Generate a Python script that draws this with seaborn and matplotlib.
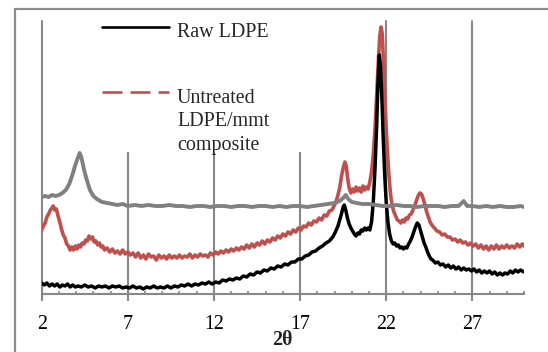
import matplotlib
matplotlib.use("Agg")
import matplotlib.pyplot as plt
import seaborn as sns
import pandas as pd
from matplotlib.lines import Line2D
from matplotlib.patches import Rectangle
from matplotlib.ticker import MultipleLocator

# ---------------- data (arbitrary intensity units) ----------------
tick_vals = [2, 7, 12, 17, 22, 27]
tick_labels = ["2", "7", "12", "17", "22", "27"]
x_label = "2θ"
series_names = ["Raw LDPE", "Untreated\nLDPE/mmt\ncomposite", "mmt"]

gray_x = [2.0, 2.2, 2.4, 2.6, 2.8, 3.0, 3.2, 3.4, 3.6, 3.8, 3.95, 4.1, 4.2, 4.3, 4.45, 4.6,
          4.8, 5.0, 5.2, 5.5, 5.8, 6.1, 6.4, 6.7, 7.0, 7.4, 7.8, 8.2, 8.6, 9.0, 9.4, 9.8,
          10.2, 10.6, 11.0, 11.4, 11.8, 12.2, 12.6, 13.0, 13.4, 13.8, 14.2, 14.6, 15.0, 15.4,
          15.8, 16.2, 16.6, 17.0, 17.4, 17.8, 18.2, 18.6, 19.0, 19.3, 19.5, 19.65, 19.8, 20.0,
          20.3, 20.6, 21.0, 21.4, 21.8, 22.2, 22.6, 23.0, 23.4, 23.8, 24.2, 24.6, 25.0, 25.4,
          25.8, 26.2, 26.5, 26.7, 27.0, 27.4, 27.8, 28.2, 28.6, 29.0, 29.4, 29.8, 30.0]
gray_y = [97, 98, 97, 99, 98, 99, 101, 104, 110, 120, 129, 136, 141, 137, 125, 115,
          104, 98, 95, 92, 91, 90, 89, 90, 88, 89, 88, 89, 88, 88, 89, 88,
          88, 87, 88, 88, 87, 88, 88, 87, 88, 88, 87, 88, 88, 87,
          88, 87, 88, 88, 87, 88, 89, 90, 91, 93, 96, 99, 95, 92,
          91, 90, 90, 89, 88, 88, 89, 88, 88, 87, 88, 88, 88, 87,
          88, 88, 93, 88, 88, 87, 88, 87, 88, 87, 87, 88, 87]

red_pts = [(2.0, 64), (2.1, 68), (2.2, 71), (2.3, 77), (2.4, 80), (2.5, 84), (2.6, 86), (2.67, 88),
           (2.75, 84), (2.85, 85), (2.95, 78), (3.05, 72), (3.15, 65), (3.25, 59), (3.35, 56),
           (3.45, 50), (3.55, 48), (3.65, 44), (3.75, 47), (3.85, 44), (3.95, 48), (4.05, 45),
           (4.15, 49), (4.25, 47), (4.35, 51), (4.45, 50), (4.55, 54), (4.65, 53), (4.75, 58),
           (4.85, 55), (4.95, 57), (5.05, 52), (5.15, 53), (5.25, 49), (5.35, 51), (5.45, 47),
           (5.55, 48), (5.65, 44), (5.8, 46), (5.95, 42), (6.1, 45), (6.25, 41), (6.4, 43),
           (6.55, 40), (6.7, 44), (6.85, 40), (7.0, 42), (7.15, 39), (7.3, 41), (7.45, 37),
           (7.6, 41), (7.75, 36), (7.9, 39), (8.05, 35), (8.2, 40), (8.35, 37), (8.5, 38),
           (8.65, 34), (8.8, 39), (8.95, 36), (9.1, 38), (9.25, 35), (9.4, 39), (9.55, 36),
           (9.7, 38), (9.85, 36), (10.0, 39), (10.15, 36), (10.3, 38), (10.45, 37), (10.6, 40),
           (10.75, 36), (10.9, 39), (11.05, 37), (11.2, 40), (11.35, 38), (11.5, 39), (11.65, 37),
           (11.8, 41), (11.95, 39), (12.1, 42), (12.25, 40), (12.4, 43), (12.55, 41), (12.7, 44),
           (12.85, 42), (13.0, 45), (13.15, 43), (13.3, 46), (13.45, 44), (13.6, 47), (13.75, 45),
           (13.9, 49), (14.05, 46), (14.2, 50), (14.35, 47), (14.5, 51), (14.65, 49), (14.8, 53),
           (14.95, 50), (15.1, 54), (15.25, 52), (15.4, 56), (15.55, 54), (15.7, 58), (15.85, 56),
           (16.0, 60), (16.15, 58), (16.3, 62), (16.45, 60), (16.6, 64), (16.75, 62), (16.9, 66),
           (17.05, 64), (17.2, 68), (17.35, 67), (17.5, 71), (17.65, 69), (17.8, 73), (17.95, 72),
           (18.1, 76), (18.25, 74), (18.4, 79), (18.55, 78), (18.7, 83), (18.85, 84), (19.0, 89),
           (19.1, 93), (19.2, 99), (19.3, 106), (19.4, 117), (19.5, 126), (19.6, 132), (19.68, 128),
           (19.76, 116), (19.85, 106), (19.95, 101), (20.05, 105), (20.15, 102), (20.25, 107),
           (20.35, 103), (20.45, 106), (20.55, 102), (20.65, 108), (20.75, 104), (20.85, 107),
           (20.95, 105), (21.05, 112), (21.15, 122), (21.25, 140), (21.35, 165), (21.45, 200),
           (21.55, 235), (21.63, 258), (21.7, 267), (21.77, 260), (21.85, 230), (21.93, 195),
           (22.0, 165), (22.08, 140), (22.16, 118), (22.25, 100), (22.35, 88), (22.45, 82),
           (22.55, 78), (22.65, 74), (22.75, 73), (22.85, 71), (22.95, 74), (23.05, 72),
           (23.15, 76), (23.25, 75), (23.35, 79), (23.45, 80), (23.55, 84), (23.65, 88),
           (23.75, 93), (23.85, 98), (23.95, 101), (24.05, 100), (24.15, 95), (24.25, 89),
           (24.35, 82), (24.45, 77), (24.55, 72), (24.65, 69), (24.8, 66), (24.95, 63),
           (25.1, 62), (25.25, 59), (25.4, 60), (25.55, 57), (25.7, 57), (25.85, 54), (26.0, 55),
           (26.15, 52), (26.3, 54), (26.45, 51), (26.6, 52), (26.75, 49), (26.9, 51), (27.05, 48),
           (27.2, 50), (27.35, 46), (27.5, 49), (27.65, 45), (27.8, 48), (27.95, 44), (28.1, 48),
           (28.25, 45), (28.4, 49), (28.55, 45), (28.7, 48), (28.85, 46), (29.0, 49), (29.15, 46),
           (29.3, 48), (29.45, 46), (29.6, 50), (29.75, 47), (29.9, 50), (30.0, 48)]

black_pts = [(2.0, 11), (2.15, 9), (2.3, 11), (2.45, 8), (2.6, 10), (2.75, 8), (2.9, 10), (3.05, 7),
             (3.2, 9), (3.35, 8), (3.5, 10), (3.65, 7), (3.8, 9), (3.95, 7), (4.1, 8), (4.3, 7),
             (4.5, 9), (4.7, 7), (4.9, 8), (5.1, 6), (5.3, 8), (5.5, 7), (5.7, 8), (5.9, 6),
             (6.1, 8), (6.3, 7), (6.5, 8), (6.7, 6), (6.9, 7), (7.1, 6), (7.3, 8), (7.5, 6),
             (7.7, 7), (7.9, 5), (8.1, 7), (8.3, 6), (8.5, 8), (8.7, 6), (8.9, 7), (9.1, 6),
             (9.3, 8), (9.5, 6), (9.7, 8), (9.9, 7), (10.1, 9), (10.3, 8), (10.5, 10), (10.7, 8),
             (10.9, 10), (11.1, 9), (11.3, 11), (11.5, 10), (11.7, 12), (11.9, 10), (12.1, 12),
             (12.3, 11), (12.5, 14), (12.7, 13), (12.9, 15), (13.1, 14), (13.3, 16), (13.5, 15),
             (13.7, 18), (13.9, 17), (14.1, 20), (14.3, 19), (14.5, 22), (14.7, 21), (14.9, 24),
             (15.1, 23), (15.3, 26), (15.5, 25), (15.7, 28), (15.9, 27), (16.1, 30), (16.3, 29),
             (16.5, 32), (16.7, 32), (16.9, 35), (17.1, 35), (17.3, 38), (17.5, 39), (17.7, 42),
             (17.9, 43), (18.1, 46), (18.3, 48), (18.5, 51), (18.7, 53), (18.9, 57), (19.05, 62),
             (19.2, 68), (19.3, 74), (19.4, 80), (19.5, 87), (19.57, 89), (19.65, 84), (19.75, 76),
             (19.85, 70), (19.95, 66), (20.05, 63), (20.15, 60), (20.25, 58), (20.35, 61),
             (20.45, 60), (20.55, 64), (20.65, 63), (20.75, 66), (20.85, 64), (20.95, 66),
             (21.05, 64), (21.15, 72), (21.25, 92), (21.35, 125), (21.45, 170), (21.52, 210),
             (21.6, 239), (21.67, 228), (21.75, 195), (21.83, 155), (21.91, 120), (22.0, 92),
             (22.1, 72), (22.2, 60), (22.3, 53), (22.4, 50), (22.5, 51), (22.6, 48), (22.7, 49),
             (22.8, 46), (22.9, 47), (23.0, 45), (23.1, 47), (23.2, 46), (23.3, 50), (23.4, 53),
             (23.5, 57), (23.6, 62), (23.7, 67), (23.8, 71), (23.9, 69), (24.0, 63), (24.1, 57),
             (24.2, 51), (24.3, 47), (24.4, 42), (24.5, 38), (24.6, 35), (24.7, 34), (24.85, 31),
             (25.0, 32), (25.15, 29), (25.3, 30), (25.45, 27), (25.6, 29), (25.75, 26), (25.9, 28),
             (26.05, 25), (26.2, 27), (26.35, 24), (26.5, 26), (26.65, 24), (26.8, 25), (26.95, 23),
             (27.1, 25), (27.25, 22), (27.4, 24), (27.55, 21), (27.7, 23), (27.85, 21), (28.0, 23),
             (28.15, 20), (28.3, 22), (28.45, 19), (28.6, 21), (28.75, 19), (28.9, 21), (29.05, 20),
             (29.2, 23), (29.35, 21), (29.5, 24), (29.65, 22), (29.8, 24), (30.0, 22)]

red_x, red_y = zip(*red_pts)
black_x, black_y = zip(*black_pts)

# ---------------- styling ----------------
sns.set_theme(style="white")
plt.rcParams['font.family'] = ['Liberation Serif', 'DejaVu Serif']
plt.rcParams['lines.scale_dashes'] = False

W, H = 548, 352
GRID = '#878787'
RED = '#C0504D'
GRAY = '#808080'

fig = plt.figure(figsize=(W / 100, H / 100), dpi=100)
ax = fig.add_axes([41.7 / W, (H - 294) / H, (524 - 41.7) / W, (294 - 21) / H])

for v in tick_vals:
    ax.axvline(v, color=GRID, lw=1.5, zorder=0.5, clip_on=False)

sns.lineplot(x=list(red_x), y=list(red_y), color=RED, lw=2.6, ax=ax,
             estimator=None, sort=False, zorder=2)
sns.lineplot(x=list(black_x), y=list(black_y), color='black', lw=2.5, ax=ax,
             estimator=None, sort=False, zorder=3)
sns.lineplot(x=gray_x, y=gray_y, color=GRAY, lw=2.8, ax=ax,
             estimator=None, sort=False, zorder=4)

ax.set_xlim(2, 30)
ax.set_ylim(0, 273)
ax.set_yticks([])
ax.set_ylabel("")
ax.set_xticks(tick_vals)
ax.set_xticklabels(tick_labels)
ax.xaxis.set_minor_locator(MultipleLocator(1))
ax.tick_params(axis='x', which='major', direction='out', length=5, width=1.5,
               color=GRID, pad=10, labelsize=14.4, labelcolor='black', bottom=True)
ax.tick_params(axis='x', which='minor', direction='in', length=2.2, width=1.2,
               color=GRID, bottom=True)
for s in ['left', 'top', 'right']:
    ax.spines[s].set_visible(False)
ax.spines['bottom'].set_color(GRID)
ax.spines['bottom'].set_linewidth(1.5)
ax.set_xlabel(x_label, fontsize=14.4, fontweight='bold', labelpad=-3)
ax.patch.set_alpha(0)


def fx(px):
    return px / W


def fy(py):
    return 1 - py / H


# legend area (white box hiding upper part of gridlines)
fig.add_artist(Rectangle((fx(95), fy(152)), fx(310) - fx(95), fy(0) - fy(152),
                         transform=fig.transFigure, facecolor='white', edgecolor='none', zorder=5))
fig.add_artist(Line2D([fx(102), fx(169)], [fy(27), fy(27)], transform=fig.transFigure,
                      color='black', lw=1.9, zorder=6))
fig.text(fx(177), fy(37), series_names[0], fontsize=14.4, va='baseline', ha='left', zorder=6)
fig.add_artist(Line2D([fx(102), fx(169)], [fy(92), fy(92)], transform=fig.transFigure,
                      color=RED, lw=1.9, dashes=(14.4, 5.8), zorder=6))
for line, base in zip(series_names[1].split("\n"), [103, 126.5, 150]):
    fig.text(fx(177), fy(base), line, fontsize=14.4, va='baseline', ha='left', zorder=6)

# outer chart frame (partially visible)
fig.add_artist(Line2D([fx(15), fx(15)], [fy(9), 0], transform=fig.transFigure,
                      color='#8c8c8c', lw=1.6, zorder=7))
fig.add_artist(Line2D([fx(15), 1], [fy(9), fy(9)], transform=fig.transFigure,
                      color='#8c8c8c', lw=1.6, zorder=7))

fig.savefig("out.png", dpi=100)
